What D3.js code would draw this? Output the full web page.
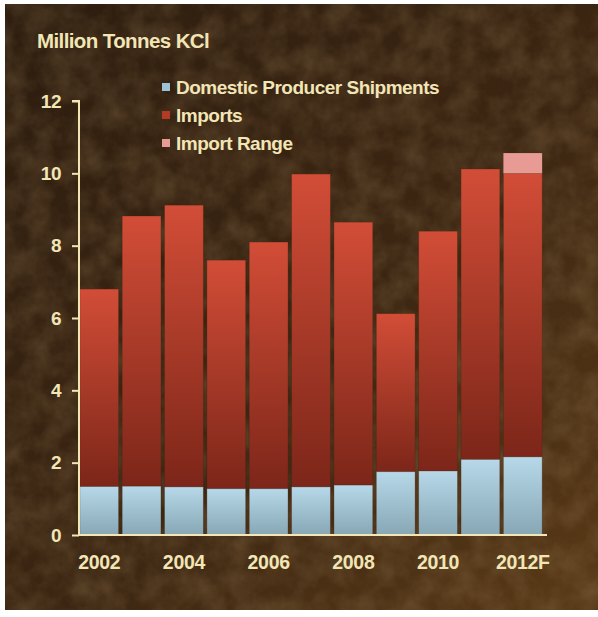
<!DOCTYPE html>
<html>
<head>
<meta charset="utf-8">
<script src="https://cdn.jsdelivr.net/npm/d3@7"></script>
<style>
  html, body { margin: 0; padding: 0; background: #ffffff; }
  svg { display: block; }
  text { font-family: "Liberation Sans", Arial, Helvetica, sans-serif; }
</style>
</head>
<body>
<svg id="chart" width="598" height="617"></svg>
<script>
// Potash supply: domestic shipments plus imports, million tonnes KCl
const years = ["2002", "2003", "2004", "2005", "2006", "2007", "2008", "2009", "2010", "2011", "2012F"];
const domestic = [1.34, 1.35, 1.33, 1.28, 1.28, 1.33, 1.38, 1.75, 1.77, 2.09, 2.16];
const totals   = [6.80, 8.82, 9.12, 7.60, 8.10, 9.98, 8.65, 6.12, 8.40, 10.12, 10.00];
const rangeTop = [null, null, null, null, null, null, null, null, null, null, 10.56];
const yTicks = [0, 2, 4, 6, 8, 10, 12];
const xLabels = ["2002", "2004", "2006", "2008", "2010", "2012F"];
const legendItems = ["Domestic Producer Shipments", "Imports", "Import Range"];

const svg = d3.select("#chart");
const cream = "#f2e5b6";
const fontStack = "'Liberation Sans', Arial, sans-serif";

// Textured brown backdrop
const defs = svg.append("defs");
const bg = defs.append("linearGradient").attr("id", "bg")
  .attr("x1", 0).attr("y1", 0).attr("x2", 1).attr("y2", 1);
bg.append("stop").attr("offset", 0).attr("stop-color", "#2d1d0f");
bg.append("stop").attr("offset", 0.55).attr("stop-color", "#3c2612");
bg.append("stop").attr("offset", 1).attr("stop-color", "#5a3a17");

const grain = defs.append("filter").attr("id", "grain")
  .attr("x", 0).attr("y", 0).attr("width", "100%").attr("height", "100%");
grain.append("feTurbulence").attr("type", "fractalNoise")
  .attr("baseFrequency", 0.04).attr("numOctaves", 4).attr("seed", 7).attr("result", "n");
grain.append("feColorMatrix").attr("in", "n").attr("type", "matrix")
  .attr("values", "0 0 0 0 0.28  0 0 0 0 0.18  0 0 0 0 0.08  0 0 0 0.9 -0.25");

svg.append("rect").attr("x", 5).attr("y", 4).attr("width", 593).attr("height", 606)
  .attr("fill", "url(#bg)");
svg.append("rect").attr("x", 5).attr("y", 4).attr("width", 593).attr("height", 606)
  .attr("filter", "url(#grain)").attr("opacity", 0.6);

// Bar gradients
const redGrad = defs.append("linearGradient").attr("id", "redGrad")
  .attr("x1", 0).attr("y1", 0).attr("x2", 0).attr("y2", 1);
redGrad.append("stop").attr("offset", 0).attr("stop-color", "#d24d37");
redGrad.append("stop").attr("offset", 1).attr("stop-color", "#7c2619");
const blueGrad = defs.append("linearGradient").attr("id", "blueGrad")
  .attr("x1", 0).attr("y1", 0).attr("x2", 0).attr("y2", 1);
blueGrad.append("stop").attr("offset", 0).attr("stop-color", "#b6d8e8");
blueGrad.append("stop").attr("offset", 1).attr("stop-color", "#87a7b5");

// Scales
const x = d3.scaleBand().domain(years).range([79, 543]).paddingInner(0.085).paddingOuter(0.02);
const y = d3.scaleLinear().domain([0, 12]).range([535, 101]);

const bars = svg.append("g");
// Imports (domestic top to total)
bars.selectAll("rect.imp").data(years).join("rect").attr("class", "imp")
  .attr("x", d => x(d)).attr("width", x.bandwidth())
  .attr("y", (d, i) => y(totals[i]))
  .attr("height", (d, i) => y(domestic[i]) - y(totals[i]))
  .attr("fill", "url(#redGrad)")
  .attr("stroke", "#4a2210").attr("stroke-opacity", 0.35).attr("stroke-width", 0.8);
// Domestic shipments
bars.selectAll("rect.dom").data(years).join("rect").attr("class", "dom")
  .attr("x", d => x(d)).attr("width", x.bandwidth())
  .attr("y", (d, i) => y(domestic[i]))
  .attr("height", (d, i) => y(0) - y(domestic[i]))
  .attr("fill", "url(#blueGrad)")
  .attr("stroke", "#4a2210").attr("stroke-opacity", 0.35).attr("stroke-width", 0.8);
// Import range on the forecast year
bars.selectAll("rect.rng").data(years.filter((d, i) => rangeTop[i] != null)).join("rect").attr("class", "rng")
  .attr("x", d => x(d)).attr("width", x.bandwidth())
  .attr("y", d => y(rangeTop[years.indexOf(d)]))
  .attr("height", d => y(totals[years.indexOf(d)]) - y(rangeTop[years.indexOf(d)]))
  .attr("fill", "#e89b95");

// Y axis
const yAxis = svg.append("g").attr("transform", "translate(79,0)")
  .call(d3.axisLeft(y).tickValues(yTicks).tickSize(7).tickPadding(11).tickFormat(d3.format("d")));
yAxis.select(".domain").attr("stroke", cream).attr("stroke-width", 2)
  .attr("d", "M-7," + y(12) + "H0V" + y(0));
yAxis.selectAll(".tick line").attr("stroke", cream).attr("stroke-width", 2);
yAxis.selectAll(".tick text").attr("fill", cream).attr("font-size", 19).attr("font-weight", "bold")
  .attr("letter-spacing", -0.5).style("font-family", fontStack);

// X axis
const xAxis = svg.append("g").attr("transform", "translate(0," + y(0) + ")")
  .call(d3.axisBottom(x).tickValues(xLabels).tickSize(0).tickPadding(20));
xAxis.select(".domain").attr("stroke", cream).attr("stroke-width", 2)
  .attr("d", "M78,0H547");
xAxis.selectAll(".tick text").attr("fill", cream).attr("font-size", 19.5).attr("font-weight", "bold")
  .attr("letter-spacing", -0.3).style("font-family", fontStack);

// Title
svg.append("text").attr("x", 37).attr("y", 48).attr("fill", cream)
  .attr("font-size", 20.5).attr("font-weight", "bold").attr("letter-spacing", -0.6)
  .text("Million Tonnes KCl");

// Legend
const legendColors = ["#9ec1d3", "#b43a28", "#e89b95"];
const leg = svg.append("g");
legendItems.forEach((label, i) => {
  const cy = 87 + i * 28;
  leg.append("rect").attr("x", 162).attr("y", cy - 4).attr("width", 8).attr("height", 8)
    .attr("fill", legendColors[i]);
  leg.append("text").attr("x", 176).attr("y", cy + 7).attr("fill", cream)
    .attr("font-size", 19).attr("font-weight", "bold").attr("letter-spacing", -0.5)
    .text(label);
});
</script>
</body>
</html>
